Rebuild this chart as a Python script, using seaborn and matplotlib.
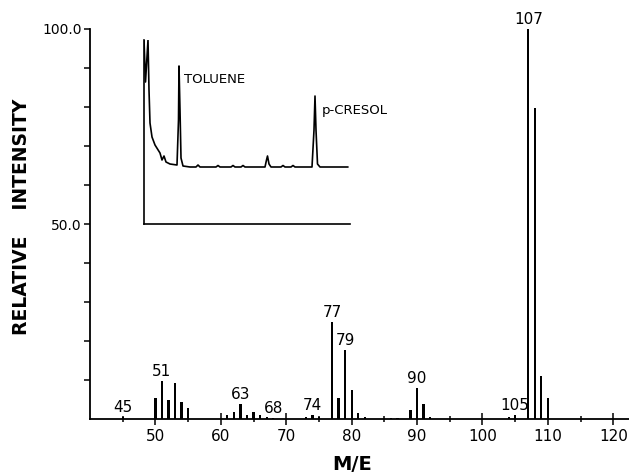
import numpy as np
import pandas as pd
import matplotlib
matplotlib.use("Agg")
import matplotlib.pyplot as plt
import seaborn as sns

# ---- mass spectrum data (m/z, relative intensity) ----
mz = [45, 50, 51, 52, 53, 54, 55, 61, 62, 63, 64, 65, 66, 67, 68,
      73, 74, 75, 77, 78, 79, 80, 81, 82, 86, 87, 89, 90, 91, 92,
      104, 105, 107, 108, 109, 110]
intensity = [0.5, 5.3, 9.7, 5.0, 9.3, 4.3, 2.9, 1.0, 1.7, 3.8, 1.0, 1.7, 1.0, 0.4, 0.3,
             0.5, 1.0, 0.5, 24.8, 5.5, 17.7, 7.4, 1.5, 0.4, 0.3, 0.3, 2.3, 8.0, 3.8, 0.6,
             0.5, 1.0, 100.0, 79.8, 11.0, 5.3]
peak_labels = [45, 51, 63, 68, 74, 77, 79, 90, 105, 107]

x_ticks = [50, 60, 70, 80, 90, 100, 110, 120]
y_ticks = [50, 100]
y_ticklabels = ["50.0", "100.0"]

# ---- inset chromatogram trace (time, detector signal) ----
gc_time = [0, 1.5, 4, 5, 6, 8, 11, 16, 18, 20, 22, 26, 33, 34.5, 35, 36, 37, 39,
           46, 52, 54, 56, 72, 74, 76, 87, 89, 91, 97, 99, 101, 121, 122.5, 123.5,
           125, 127, 137, 139, 141, 147, 149, 151, 168, 170, 171, 172, 173.5, 176, 204]
gc_signal = [184, 142, 184, 134, 101, 87, 79, 71, 64, 68, 62, 60, 59, 104, 158, 114, 66, 58,
             57, 57, 59, 57, 57, 58.5, 57, 57, 58.5, 57, 57, 58.5, 57, 57, 64, 68,
             60, 57, 57, 58.5, 57, 57, 58.5, 57, 57, 94, 128, 94, 60, 57, 57]

sns.set_style("ticks")
plt.rcParams["font.family"] = ["DejaVu Sans"]
for k in ["text.color", "axes.labelcolor", "xtick.color", "ytick.color", "axes.edgecolor"]:
    plt.rcParams[k] = "black"

fig = plt.figure(figsize=(6.29, 4.72), dpi=100)
ax = fig.add_axes([90 / 629, 53 / 472, 539 / 629, 390 / 472])

df = pd.DataFrame({"mz": mz, "intensity": intensity})
sns.barplot(data=df, x="mz", y="intensity", native_scale=True, width=0.34,
            color="black", saturation=1, ax=ax, linewidth=0)

ax.set_xlim(40, 122.4)
ax.set_ylim(0, 100)
sns.despine(ax=ax, top=True, right=True)
for s in ["left", "bottom"]:
    ax.spines[s].set_linewidth(1.3)
    ax.spines[s].set_color("black")

ax.set_xticks(x_ticks)
ax.set_xticklabels([str(v) for v in x_ticks], fontsize=11)
ax.set_xticks(np.arange(45, 121, 10), minor=True)
ax.tick_params(axis="x", which="major", direction="inout", length=9, width=1.1, pad=3, colors="black")
ax.tick_params(axis="x", which="minor", direction="inout", length=5, width=1.1, colors="black")

ax.set_yticks(y_ticks)
ax.set_yticklabels(y_ticklabels, fontsize=10)
ax.set_yticks([10, 20, 30, 40, 60, 70, 80, 90], minor=True)
ax.tick_params(axis="y", which="major", direction="out", length=4, width=1.1, pad=2, colors="black")
ax.tick_params(axis="y", which="minor", direction="out", length=4, width=1.1, colors="black")

ax.set_xlabel("")
ax.set_ylabel("")
fig.text(22 / 629, 1 - 217 / 472, "RELATIVE    INTENSITY", rotation=90,
         ha="center", va="center", fontsize=13.5, fontweight="bold", color="black")
fig.text(352 / 629, 1 - 464 / 472, "M/E", ha="center", va="center",
         fontsize=14, fontweight="bold", color="black")

lookup = dict(zip(mz, intensity))
for m in peak_labels:
    ax.annotate(str(m), xy=(m, lookup[m]), xytext=(0, 1.5), textcoords="offset points",
                ha="center", va="bottom", fontsize=11, color="black")

# ---- inset chromatogram ----
ins = fig.add_axes([144 / 629, 1 - 224 / 472, 206 / 629, 184 / 472])
gc = pd.DataFrame({"t": gc_time, "s": gc_signal})
sns.lineplot(data=gc, x="t", y="s", ax=ins, color="black", linewidth=1.2,
             estimator=None, sort=False)
ins.set_xlim(0, 206)
ins.set_ylim(0, 184)
ins.set_facecolor("none")
sns.despine(ax=ins, top=True, right=True)
for s in ["left", "bottom"]:
    ins.spines[s].set_linewidth(1.2)
    ins.spines[s].set_color("black")
ins.set_xticks([])
ins.set_yticks([])
ins.set_xlabel("")
ins.set_ylabel("")
ins.text(40, 141, "TOLUENE", fontsize=9.5, va="baseline", ha="left", color="black")
ins.text(178, 110, "p-CRESOL", fontsize=9.5, va="baseline", ha="left", color="black")

fig.savefig("out.png", dpi=100)
